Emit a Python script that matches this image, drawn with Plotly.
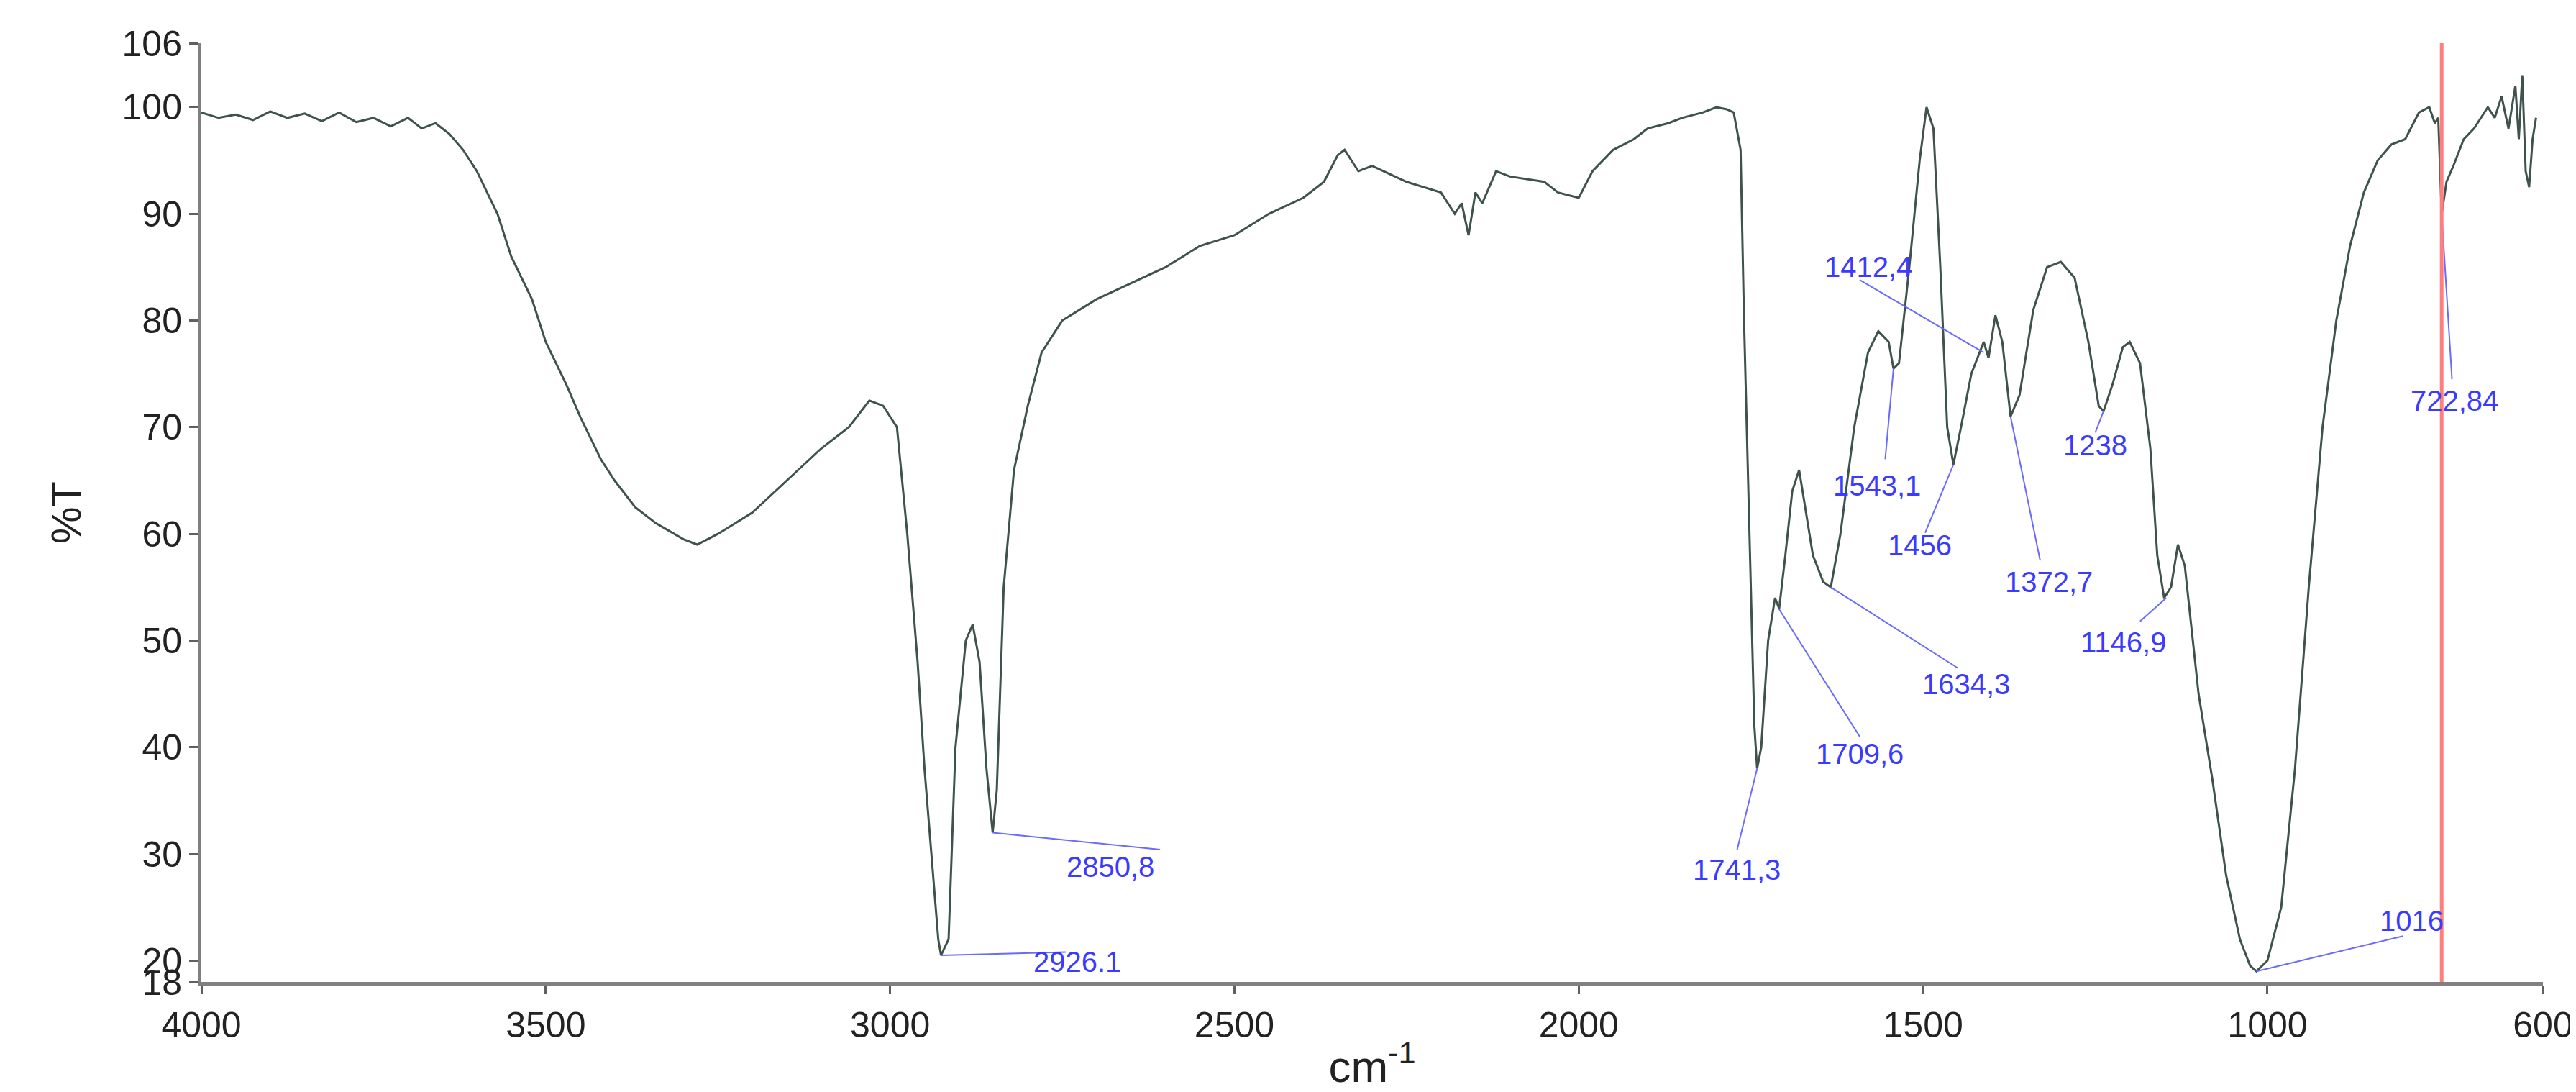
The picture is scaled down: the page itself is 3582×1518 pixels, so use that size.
import plotly.graph_objects as go

wavenumber = [4000,3975,3950,3925,3900,3875,3850,3825,3800,3775,3750,3725,3700,3680,3660,3640,3620,3600,3570,3550,3520,3500,3470,3450,3420,3400,3370,3340,3300,3280,3250,3200,3150,3100,3060,3030,3010,2990,2975,2960,2950,2940,2930,2926,2915,2905,2890,2880,2870,2860,2851,2845,2835,2820,2800,2780,2750,2700,2650,2600,2550,2500,2450,2400,2370,2350,2340,2320,2300,2250,2200,2180,2170,2160,2150,2140,2120,2100,2050,2030,2000,1980,1950,1920,1900,1870,1850,1820,1800,1785,1775,1765,1760,1750,1745,1741,1735,1725,1715,1709,1700,1690,1680,1670,1660,1645,1634,1620,1600,1580,1565,1550,1543,1535,1520,1505,1495,1485,1475,1465,1456,1445,1430,1412,1405,1395,1385,1373,1360,1340,1320,1300,1280,1260,1245,1238,1225,1210,1200,1185,1170,1160,1150,1140,1130,1120,1100,1080,1060,1040,1025,1016,1000,980,960,940,920,900,880,860,840,820,800,780,765,757,752,747,740,730,715,700,690,680,670,660,650,640,635,630,625,620,615,610,605,600]
transmittance = [99.5,99,99.3,98.8,99.6,99,99.4,98.7,99.5,98.6,99,98.2,99,98,98.5,97.5,96,94,90,86,82,78,74,71,67,65,62.5,61,59.5,59,60,62,65,68,70,72.5,72,70,60,48,38,30,22,20.5,22,40,50,51.5,48,38,32,36,55,66,72,77,80,82,83.5,85,87,88,90,91.5,93,95.5,96,94,94.5,93,92,90,91,88,92,91,94,93.5,93,92,91.5,94,96,97,98,98.5,99,99.5,100,99.8,99.5,96,80,55,42,38,40,50,54,53,58,64,66,62,58,55.5,55,60,70,77,79,78,75.5,76,85,95,100,98,85,70,66.5,70,75,78,76.5,80.5,78,71,73,81,85,85.5,84,78,72,71.5,74,77.5,78,76,68,58,54,55,59,57,45,37,28,22,19.5,19,20,25,38,55,70,80,87,92,95,96.5,97,99.5,100,98.5,99,90,93,94.5,97,98,99,100,99,101,98,102,97,103,94,92.5,97,99]

peak_labels = ["2926.1","2850,8","1741,3","1709,6","1634,3","1543,1","1456","1412,4","1372,7","1238","1146,9","1016","722,84"]
peak_x = [2926,2851,1741,1709.6,1634,1543,1456,1412,1373,1238,1147,1016,747]
peak_y = [20.5,32,38,53,55,75.5,66.5,77,71,71.5,54,19,90]
line_end_x = [2745,2608,1770,1592,1449,1555,1497,1592,1330,1250,1185,803,732]
line_end_y = [20.8,30.4,30.4,41,47.4,67,60.1,83.8,57.5,69.5,51.8,22.3,74.5]
text_x = [2728,2680,1771,1592,1437,1567,1505,1580,1317,1250,1209,791,728]
text_y = [19.9,28.8,28.5,39.4,45.9,64.5,58.9,85,55.5,68.3,49.8,23.7,72.5]

red_line_x = 747
x_ticks = [4000,3500,3000,2500,2000,1500,1000,600]
y_ticks = [18,20,30,40,50,60,70,80,90,100,106]

fig = go.Figure()
fig.add_trace(go.Scatter(x=wavenumber, y=transmittance, mode="lines",
                         line=dict(color="#3f524d", width=3), showlegend=False))
for i in range(len(peak_labels)):
    fig.add_trace(go.Scatter(x=[peak_x[i], line_end_x[i]], y=[peak_y[i], line_end_y[i]],
                             mode="lines", line=dict(color="#6a6aff", width=2), showlegend=False))
    fig.add_annotation(x=text_x[i], y=text_y[i], text=peak_labels[i], showarrow=False,
                       font=dict(color="#3b3bff", size=40, family="Arial"))
fig.add_shape(type="line", x0=red_line_x, x1=red_line_x, y0=18, y1=106,
              line=dict(color="#ff7f7f", width=5))

axis_common = dict(showgrid=False, zeroline=False, showline=True, linecolor="#808080",
                   linewidth=5, ticks="outside", tickcolor="#606060", ticklen=12, tickwidth=3,
                   tickfont=dict(size=50, family="Arial", color="#222"))
fig.update_xaxes(range=[4000, 600], tickvals=x_ticks, mirror=False,
                 title=dict(text="cm<sup>-1</sup>", font=dict(size=62, family="Arial", color="#222"), standoff=10),
                 **axis_common)
fig.update_yaxes(range=[18, 106], tickvals=y_ticks,
                 title=dict(text="%T", font=dict(size=58, family="Arial", color="#222"), standoff=40),
                 **axis_common)
fig.update_layout(width=3582, height=1518, paper_bgcolor="white", plot_bgcolor="white",
                  margin=dict(l=272, r=42, t=52, b=161))
fig.write_html("out.html")
